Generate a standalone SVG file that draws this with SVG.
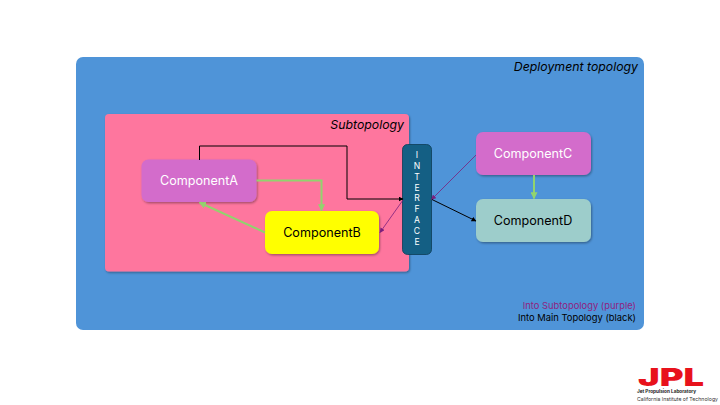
<svg xmlns="http://www.w3.org/2000/svg" width="720" height="405" viewBox="0 0 720 405">
<style>
text{font-family:"Inter","Liberation Sans",Arial,sans-serif}
.n{font-size:12.6px;text-anchor:middle}
.c{font-size:8.6px;fill:#fff;text-anchor:middle}
.t{font-size:12.3px;font-style:italic;text-anchor:end;fill:#000}
.l{font-size:9.4px;text-anchor:end}
.g{fill:none;stroke:#92d36e;stroke-width:2}
.b{fill:none;stroke:#000;stroke-width:1}
.p{fill:none;stroke:#7a1f7d;stroke-width:.8}
</style>
<defs>
<filter id="s" x="-10%" y="-10%" width="125%" height="125%"><feDropShadow dx="1" dy="1.3" stdDeviation="1" flood-color="#000" flood-opacity=".35"/></filter>
<marker id="ag" viewBox="0 0 10 10" refX="9" refY="5" markerWidth="3.500" markerHeight="3.500" orient="auto"><path d="M0 0L10 5L0 10Z" fill="#92d36e"/></marker>
<marker id="ab" viewBox="0 0 10 10" refX="9" refY="5" markerWidth="5" markerHeight="5" orient="auto" markerUnits="userSpaceOnUse"><path d="M0 0L10 5L0 10Z" fill="#000"/></marker>
<marker id="ap" viewBox="0 0 10 10" refX="9" refY="5" markerWidth="5" markerHeight="5" orient="auto" markerUnits="userSpaceOnUse"><path d="M0 0L10 5L0 10Z" fill="#7a1f7d"/></marker>
</defs>
<rect width="720" height="405" fill="#fff"/>
<g id="deployment"><rect x="76" y="57" width="568" height="273" rx="7" fill="#4f94d8"/><text class="t" x="638" y="71">Deployment topology</text></g>
<g id="subtopology"><rect x="105" y="114" width="304" height="157.500" rx="4" fill="#fe769e" filter="url(#s)"/><text class="t" x="404" y="129">Subtopology</text></g>
<g id="componentA"><rect x="141.500" y="159.500" width="115" height="42.500" rx="7" fill="#d36ccb" filter="url(#s)"/><text class="n" x="199" y="185" fill="#fff">ComponentA</text></g>
<g id="componentB"><rect x="265" y="211" width="114" height="43" rx="7" fill="#ffff00" filter="url(#s)"/><text class="n" x="322" y="237" fill="#000">ComponentB</text></g>
<g id="interface"><rect x="402.500" y="144.500" width="29" height="110" rx="5" fill="#145f84" stroke="#0d3c55" stroke-width=".8"/>
<text class="c" x="417" y="158">I</text><text class="c" x="417" y="169">N</text><text class="c" x="417" y="179.500">T</text><text class="c" x="417" y="190.500">E</text><text class="c" x="417" y="201">R</text><text class="c" x="417" y="212">F</text><text class="c" x="417" y="223">A</text><text class="c" x="417" y="234">C</text><text class="c" x="417" y="245">E</text></g>
<g id="componentC"><rect x="476" y="132" width="115" height="43" rx="7" fill="#d36ccb" filter="url(#s)"/><text class="n" x="533" y="158" fill="#fff">ComponentC</text></g>
<g id="componentD"><rect x="476" y="199" width="115" height="43" rx="7" fill="#9dcdcb" filter="url(#s)"/><text class="n" x="533" y="225" fill="#000">ComponentD</text></g>
<g id="connectors">
<path class="b" d="M199.500 160V146H347V199H403" marker-end="url(#ab)"/>
<path class="g" d="M256.500 180.500H321.500V210.500" marker-end="url(#ag)"/>
<path class="g" d="M265 232.500L199.500 202.500" marker-end="url(#ag)"/>
<path class="p" d="M403 200L380 232.500" marker-end="url(#ap)"/>
<path class="p" d="M476 155L431.500 199.500" marker-end="url(#ap)"/>
<path class="b" d="M432 199.500L476 221" marker-end="url(#ab)"/>
<path class="g" d="M534 175V198.500" marker-end="url(#ag)"/>
</g>
<g id="legend"><text class="l" x="636" y="309" fill="#8f1f80">Into Subtopology (purple)</text><text class="l" x="636" y="321" fill="#000">Into Main Topology (black)</text></g>
<g id="logo"><text x="638" y="385.500" font-size="25" font-weight="900" fill="#e8121c" textLength="66" lengthAdjust="spacingAndGlyphs">JPL</text>
<text x="637" y="393" font-size="4.700" font-weight="700" fill="#222">Jet Propulsion Laboratory</text>
<text x="637" y="401" font-size="5.200" fill="#333">California Institute of Technology</text></g>
</svg>
